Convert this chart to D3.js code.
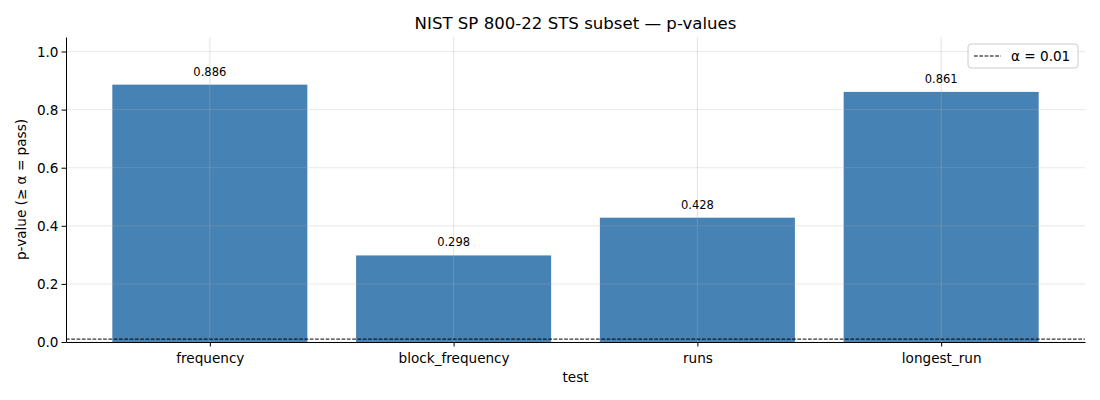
<!DOCTYPE html>
<html>
<head>
<meta charset="utf-8">
<script src="https://cdn.jsdelivr.net/npm/d3@7"></script>
<style>
  body { margin: 0; background: #fff; }
  svg text { font-family: "DejaVu Sans", sans-serif; }
</style>
</head>
<body>
<div id="chart"></div>
<script>
const tests = ["frequency", "block_frequency", "runs", "longest_run"];
const pValues = [0.886, 0.298, 0.428, 0.861];
const yTicks = [0.0, 0.2, 0.4, 0.6, 0.8, 1.0];
const alpha = 0.01;

const W = 1100, H = 400;
const margin = { top: 37, right: 15, bottom: 58, left: 66 };
const width = W - margin.left - margin.right;
const height = H - margin.top - margin.bottom;

const svg = d3.select("#chart").append("svg")
  .attr("width", W).attr("height", H);

const g = svg.append("g")
  .attr("transform", `translate(${margin.left},${margin.top})`);

// matplotlib-like xlim around bar indices
const x = d3.scaleLinear().domain([-0.59, tests.length - 1 + 0.59]).range([0, width]);
const y = d3.scaleLinear().domain([0, 1.05]).range([height, 0]);
const barW = x(0.8) - x(0);

// Bars
g.selectAll(".bar")
  .data(pValues)
  .join("rect")
  .attr("class", "bar")
  .attr("x", (d, i) => x(i) - barW / 2)
  .attr("y", (d) => y(d))
  .attr("width", barW)
  .attr("height", (d) => y(0) - y(d))
  .attr("fill", "#4682b4");

// Grid (drawn above bars)
g.append("g")
  .selectAll("line")
  .data(yTicks)
  .join("line")
  .attr("x1", 0).attr("x2", width)
  .attr("y1", (d) => y(d)).attr("y2", (d) => y(d))
  .attr("stroke", "#b0b0b0").attr("stroke-opacity", 0.35).attr("stroke-width", 0.8);

g.append("g")
  .selectAll("line")
  .data(tests.map((t, i) => i))
  .join("line")
  .attr("x1", (d) => x(d)).attr("x2", (d) => x(d))
  .attr("y1", 0).attr("y2", height)
  .attr("stroke", "#b0b0b0").attr("stroke-opacity", 0.45).attr("stroke-width", 0.8);

// Value labels
g.selectAll(".val")
  .data(pValues)
  .join("text")
  .attr("class", "val")
  .attr("x", (d, i) => x(i))
  .attr("y", (d) => y(d) - 9)
  .attr("text-anchor", "middle")
  .attr("font-size", "11.5px")
  .attr("fill", "#000")
  .text((d) => d.toFixed(3));

// Alpha line
g.append("line")
  .attr("x1", 0).attr("x2", width)
  .attr("y1", y(alpha)).attr("y2", y(alpha))
  .attr("stroke", "#000").attr("stroke-width", 1)
  .attr("stroke-dasharray", "3.7,1.6");

// Axes
const xAxis = g.append("g")
  .attr("transform", `translate(0,${height})`)
  .call(d3.axisBottom(x).tickValues(tests.map((t, i) => i))
    .tickFormat((i) => tests[i]).tickSize(4.5).tickSizeOuter(0));
xAxis.selectAll("text").attr("font-size", "13.6px").attr("dy", "1.0em").attr("fill", "#000");

const yAxis = g.append("g")
  .call(d3.axisLeft(y).tickValues(yTicks).tickFormat(d3.format(".1f")).tickSize(4.5).tickSizeOuter(0));
yAxis.selectAll("text").attr("font-size", "13.6px").attr("dy", "0.35em").attr("fill", "#000");

[xAxis, yAxis].forEach((a) => {
  a.select(".domain").attr("stroke", "#000").attr("stroke-width", 1);
  a.selectAll(".tick line").attr("stroke", "#000");
});

// Axis labels and title
svg.append("text")
  .attr("x", margin.left + width / 2).attr("y", 382)
  .attr("text-anchor", "middle").attr("font-size", "13.6px")
  .text("test");

svg.append("text")
  .attr("transform", `translate(26,${margin.top + height / 2}) rotate(-90)`)
  .attr("text-anchor", "middle").attr("font-size", "13.6px")
  .text("p-value (≥ α = pass)");

svg.append("text")
  .attr("x", margin.left + width / 2).attr("y", 29)
  .attr("text-anchor", "middle").attr("font-size", "16.6px")
  .text("NIST SP 800-22 STS subset — p-values");

// Legend
const lg = svg.append("g").attr("transform", "translate(968,44)");
lg.append("rect")
  .attr("width", 110).attr("height", 24).attr("rx", 3)
  .attr("fill", "#fff").attr("fill-opacity", 0.8)
  .attr("stroke", "#ccc");
lg.append("line")
  .attr("x1", 6).attr("x2", 33).attr("y1", 12).attr("y2", 12)
  .attr("stroke", "#000").attr("stroke-dasharray", "3.7,1.6");
lg.append("text")
  .attr("x", 43).attr("y", 12).attr("dy", "0.35em")
  .attr("font-size", "13.6px")
  .text("α = 0.01");
</script>
</body>
</html>
